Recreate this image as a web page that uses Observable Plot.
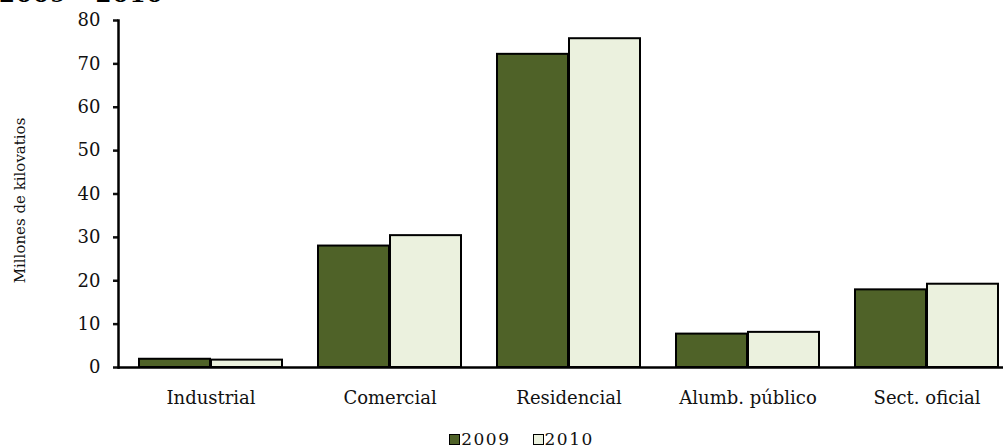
<!DOCTYPE html>
<html>
<head>
<meta charset="utf-8">
<script src="https://cdn.jsdelivr.net/npm/d3@7"></script>
<script src="https://cdn.jsdelivr.net/npm/@observablehq/plot@0.6"></script>
<style>
  html, body { margin: 0; padding: 0; background: #fff; overflow: hidden; }
  #wrap { position: relative; width: 1003px; height: 447px; font-family: "DejaVu Serif", serif; }
  #title { position: absolute; left: -1px; top: -20px; font-weight: bold; font-size: 23px; color: #000; white-space: nowrap; letter-spacing: 1px; }
  #chart { position: absolute; left: 0; top: 0; }
  #legend { position: absolute; left: 20px; top: 430px; width: 1003px; text-align: center; font-size: 17px; color: #111; line-height: 18px; letter-spacing: 1.5px; }
  .sw { display: inline-block; width: 9px; height: 9px; border: 1.5px solid #000; vertical-align: 0px; margin-right: 1px; }
  .item { margin: 0 11px; }
</style>
</head>
<body>
<div id="wrap">
  <div id="chart"></div>
  <div id="title">2009 - 2010</div>
  <div id="legend"></div>
</div>
<script>
const categories = ["Industrial", "Comercial", "Residencial", "Alumb. público", "Sect. oficial"];
const years = ["2009", "2010"];
const values2009 = [1.9, 28.0, 72.2, 7.7, 17.9];
const values2010 = [1.7, 30.4, 75.8, 8.1, 19.2];
const colors = {"2009": "#4f6228", "2010": "#ebf1de"};
const yTicks = [0, 10, 20, 30, 40, 50, 60, 70, 80];

const d2009 = categories.map((c, i) => ({category: c, year: "2009", value: values2009[i]}));
const d2010 = categories.map((c, i) => ({category: c, year: "2010", value: values2010[i]}));

const chart = Plot.plot({
  width: 1003,
  height: 420,
  marginLeft: 118,
  marginRight: -17,
  marginTop: 20,
  marginBottom: 53,
  style: {fontFamily: "DejaVu Serif, serif", fontSize: "16px", color: "#111", background: "transparent", overflow: "visible"},
  x: {domain: categories, paddingInner: 0.2, paddingOuter: 0.11, axis: null},
  y: {domain: [0, 80], axis: null},
  marks: [
    Plot.barY(d2009, {x: "category", y: "value", fill: colors["2009"], stroke: "#000", strokeWidth: 2, insetRight: 72}),
    Plot.barY(d2010, {x: "category", y: "value", fill: colors["2010"], stroke: "#000", strokeWidth: 2, insetLeft: 72}),
    Plot.axisX({tickSize: 0, tickPadding: 24, fontSize: 18, label: null, style: "letter-spacing: 1.6px"}),
    Plot.axisY({ticks: yTicks, tickSize: 5, tickPadding: 13, strokeWidth: 2.5, fontSize: 18, label: null, style: "letter-spacing: 1px"}),
    Plot.frame({anchor: "left", stroke: "#000", strokeWidth: 2.5}),
    Plot.ruleY([0], {stroke: "#000", strokeWidth: 2.5}),
    Plot.text(["Millones de kilovatios"], {frameAnchor: "left", y: 38.5, dx: -98, rotate: -90, textAnchor: "middle", fontSize: 15, fill: "#111"})
  ]
});
document.getElementById("chart").appendChild(chart);

const legend = document.getElementById("legend");
legend.innerHTML = years.map(y => `<span class="item"><span class="sw" style="background:${colors[y]}"></span>${y}</span>`).join("");
</script>
</body>
</html>
